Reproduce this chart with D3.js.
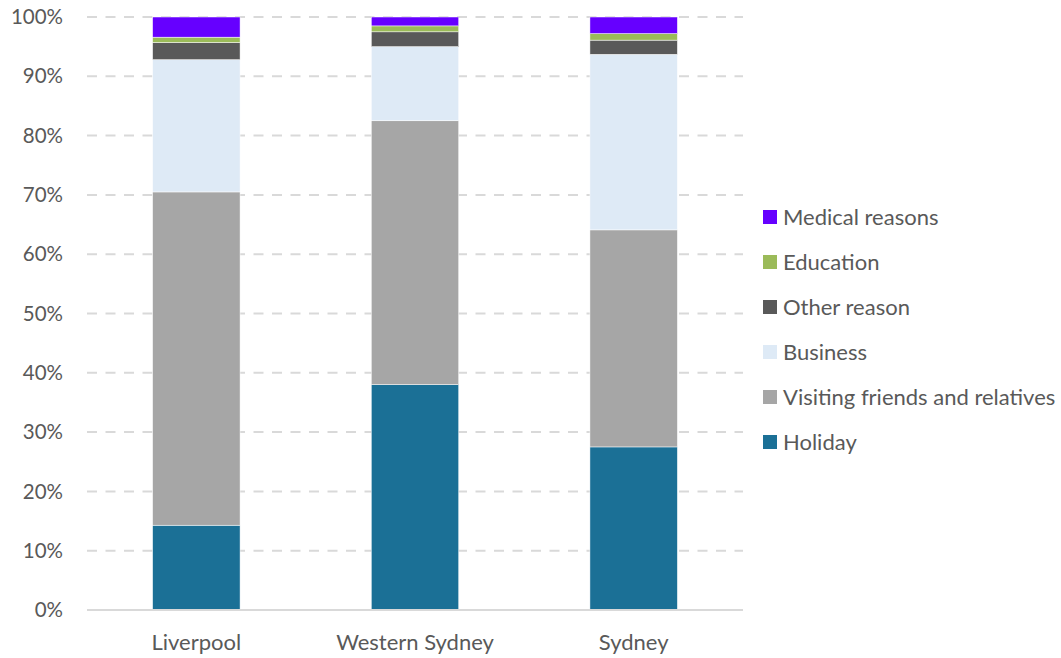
<!DOCTYPE html>
<html>
<head>
<meta charset="utf-8">
<script src="https://cdn.jsdelivr.net/npm/d3@7"></script>
<style>
  body { margin: 0; background: #fff; }
  text { font-family: Lato, "Open Sans", sans-serif; fill: #595959; }
</style>
</head>
<body>
<svg id="chart" width="1061" height="658"></svg>
<script>
// regions along the x axis
const regions = ["Liverpool", "Western Sydney", "Sydney"];
// share of visitors by reason, in percent (bottom to top)
const holiday  = [14.3, 38.0, 27.5];
const vfr      = [56.2, 44.5, 36.6];
const business = [22.3, 12.5, 29.6];
const other    = [2.9, 2.5, 2.4];
const education = [0.9, 1.0, 1.1];
const medical  = [3.4, 1.5, 2.8];
const reasons = ["Holiday", "Visiting friends and relatives", "Business", "Other reason", "Education", "Medical reasons"];
const colours = ["#1b7096", "#a6a6a6", "#deeaf6", "#595959", "#9bbb59", "#6600ff"];
const yTicks = [0, 10, 20, 30, 40, 50, 60, 70, 80, 90, 100];

const series = [holiday, vfr, business, other, education, medical];
const rows = regions.map(function (r, i) {
  const o = { region: r };
  reasons.forEach(function (k, j) { o[k] = series[j][i]; });
  return o;
});

const svg = d3.select("#chart");
const plotLeft = 87, plotRight = 743, plotTop = 17, plotBottom = 610;

const x = d3.scaleBand().domain(regions).range([plotLeft, plotRight])
  .paddingInner(0.6).paddingOuter(0.3);
const y = d3.scaleLinear().domain([0, 100]).range([plotBottom, plotTop]);

// gridlines
svg.append("g")
  .selectAll("line")
  .data(yTicks.filter(function (d) { return d > 0; }))
  .enter()
  .append("line")
  .attr("x1", plotLeft).attr("x2", plotRight)
  .attr("y1", function (d) { return y(d); })
  .attr("y2", function (d) { return y(d); })
  .style("stroke", "#d9d9d9")
  .style("stroke-width", 2)
  .style("stroke-dasharray", "10,8.5");

const stack = d3.stack().keys(reasons)(rows);

svg.append("g")
  .selectAll("g")
  .data(stack)
  .enter()
  .append("g")
  .attr("fill", function (d, i) { return colours[i]; })
  .selectAll("rect")
  .data(function (d) { return d; })
  .enter()
  .append("rect")
  .attr("x", function (d) { return x(d.data.region); })
  .attr("width", x.bandwidth())
  .attr("y", function (d) { return y(Math.min(d[1], 100)); })
  .attr("height", function (d) { return y(d[0]) - y(Math.min(d[1], 100)); })
  .style("stroke", "#ffffff")
  .style("stroke-width", 0.5);

// baseline
svg.append("line")
  .attr("x1", plotLeft).attr("x2", plotRight)
  .attr("y1", y(0)).attr("y2", y(0))
  .style("stroke", "#d9d9d9")
  .style("stroke-width", 2);

// y tick labels
svg.append("g")
  .selectAll("text")
  .data(yTicks)
  .enter()
  .append("text")
  .attr("x", 63)
  .attr("y", function (d) { return y(d); })
  .attr("dy", "0.35em")
  .attr("text-anchor", "end")
  .style("font-size", "20.5px")
  .text(function (d) { return d + "%"; });

// x labels
svg.append("g")
  .selectAll("text")
  .data(regions)
  .enter()
  .append("text")
  .attr("x", function (d) { return x(d) + x.bandwidth() / 2; })
  .attr("y", 642)
  .attr("dy", "0.35em")
  .attr("text-anchor", "middle")
  .style("font-size", "22px")
  .text(function (d) { return d; });

// legend, top entry is the top of the stack
const legendItems = reasons.slice().reverse();
const lg = svg.append("g")
  .selectAll("g")
  .data(legendItems)
  .enter()
  .append("g")
  .attr("transform", function (d, i) { return "translate(763," + (217 + i * 45) + ")"; });

lg.append("rect")
  .attr("x", 0).attr("y", -7)
  .attr("width", 14).attr("height", 14)
  .attr("fill", function (d) { return colours[reasons.indexOf(d)]; });

lg.append("text")
  .attr("x", 20)
  .attr("dy", "0.35em")
  .style("font-size", "22px")
  .text(function (d) { return d; });
</script>
</body>
</html>
